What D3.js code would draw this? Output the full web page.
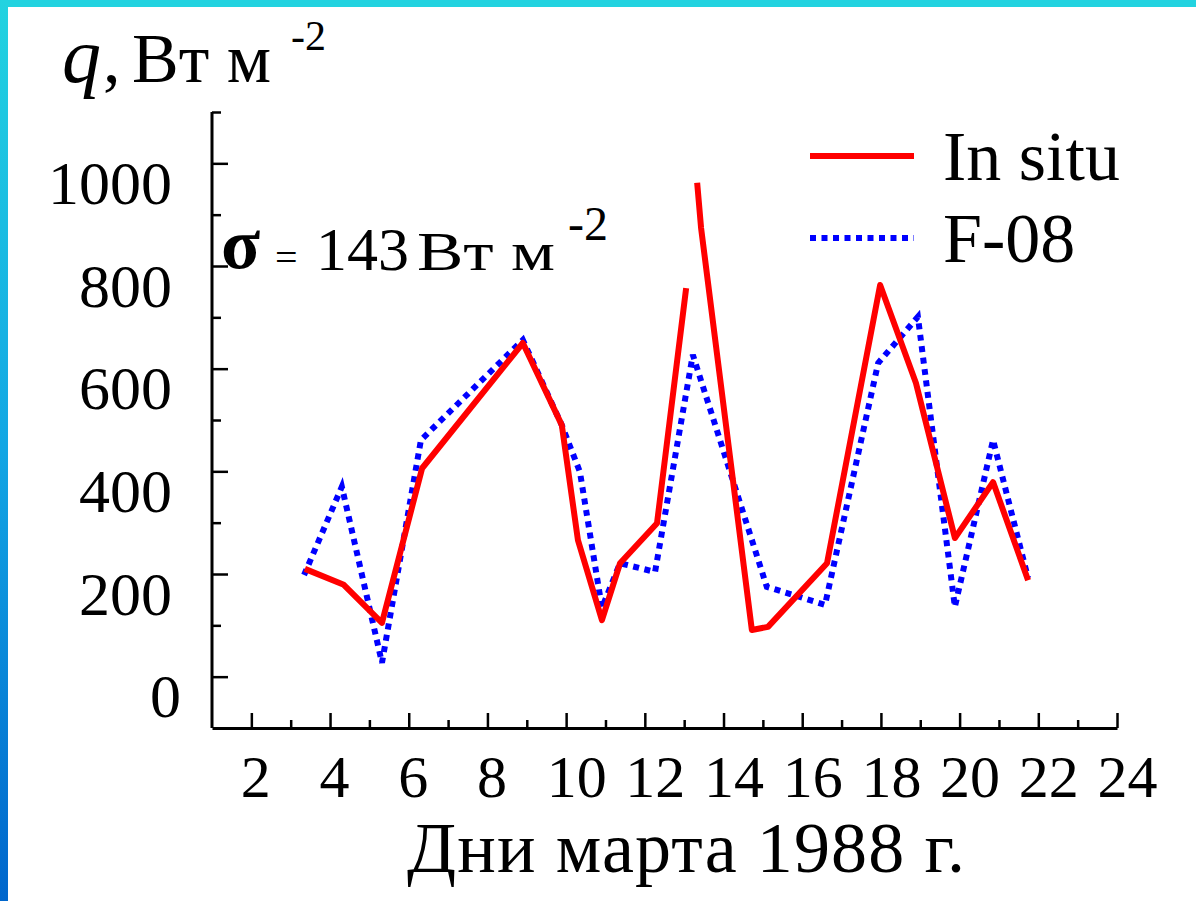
<!DOCTYPE html>
<html>
<head>
<meta charset="utf-8">
<script src="https://cdn.jsdelivr.net/npm/d3@7"></script>
<style>
  body { margin: 0; background: #fff; }
  svg { display: block; }
  text { font-family: "Liberation Serif", "Times New Roman", serif; fill: #000; }
</style>
</head>
<body>
<div id="chart"></div>
<script>
// days of March 1988 and heat flux q, W m-2
const inSituDays = [3.36, 4.35, 5.32, 6.34, 8.90, 9.89, 10.30, 10.91, 11.37, 12.31, 13.05, null,
                    13.33, 13.43, 14.72, 15.13, 16.63, 17.98, 18.89, 19.88, 20.85, 21.74];
const inSituValues = [210, 179, 105, 406, 650, 490, 266, 110, 221, 299, 757, null,
                      962, 874, 91, 97, 221, 763, 572, 270, 379, 188];
const f08Days = [3.34, 4.30, 5.32, 6.31, 8.90, 9.89, 10.35, 10.91, 11.37, 12.26, 13.22,
                 15.10, 16.58, 17.93, 18.94, 19.88, 20.85, 21.74];
const f08Values = [198, 370, 27, 461, 656, 490, 399, 134, 221, 204, 627,
                   175, 140, 611, 701, 136, 461, 192];

const xTickValues = d3.range(2, 25);          // 2..24, labels on even days
const yTickValues = d3.range(0, 1101, 100);   // labels on multiples of 200
const seriesNames = ["In situ", "F-08"];

const width = 1196, height = 901;

const svg = d3.select("#chart").append("svg")
    .attr("width", width)
    .attr("height", height);

// frame: cyan top band and gradient left band
const grad = svg.append("defs").append("linearGradient")
    .attr("id", "side").attr("x1", 0).attr("y1", 0).attr("x2", 0).attr("y2", 1);
grad.append("stop").attr("offset", "0%").attr("stop-color", "#22d3e0");
grad.append("stop").attr("offset", "50%").attr("stop-color", "#12a6e4");
grad.append("stop").attr("offset", "100%").attr("stop-color", "#0066cc");
svg.append("rect").attr("x", 0).attr("y", 0).attr("width", width).attr("height", 7).attr("fill", "#22d3e0");
svg.append("rect").attr("x", 0).attr("y", 0).attr("width", 8).attr("height", height).attr("fill", "url(#side)");

const x = d3.scaleLinear().domain([1, 24]).range([212, 1117]);
const y = d3.scaleLinear().domain([-100, 1100]).range([728, 112]);

// x axis, ticks pointing inward
const xAxis = svg.append("g")
    .attr("transform", `translate(0,${y(-100)})`)
    .call(d3.axisBottom(x).tickValues(xTickValues).tickSizeOuter(0).tickFormat(d3.format("d")));
xAxis.select(".domain").attr("stroke", "#000").attr("stroke-width", 3);
xAxis.selectAll(".tick line")
    .attr("stroke", "#000").attr("stroke-width", 2.5)
    .attr("y2", d => d % 2 === 0 ? -15 : -8);
xAxis.selectAll(".tick text")
    .attr("dy", null).attr("y", 69)
    .attr("x", d => d < 10 ? 4 : 10)
    .style("font-size", "60px")
    .text(d => d % 2 === 0 ? d : "");

// y axis, ticks pointing inward
const yAxis = svg.append("g")
    .attr("transform", `translate(${x(1)},0)`)
    .call(d3.axisLeft(y).tickValues(yTickValues).tickSizeOuter(0).tickFormat(d3.format("d")));
yAxis.select(".domain").attr("stroke", "#000").attr("stroke-width", 3)
    .attr("d", `M0,${y(1100)}V${y(-100)}`);
yAxis.selectAll(".tick line")
    .attr("stroke", "#000").attr("stroke-width", 2.5)
    .attr("x2", d => d % 200 === 0 ? 16 : 9);
yAxis.selectAll(".tick text")
    .attr("dy", null).attr("y", 40)
    .attr("x", d => d === 0 ? -31 : -40)
    .attr("text-anchor", "end")
    .style("font-size", "62px")
    .text(d => d % 200 === 0 ? d : "");

// lines
const line = d3.line()
    .defined(d => d[1] != null)
    .x(d => x(d[0]))
    .y(d => y(d[1]));

const inSitu = d3.zip(inSituDays, inSituValues);
const f08 = d3.zip(f08Days, f08Values);

svg.append("path")
    .datum(f08)
    .attr("fill", "none")
    .attr("stroke", "#0000ff")
    .attr("stroke-width", 6)
    .attr("stroke-dasharray", "6,5.5")
    .attr("d", line);

svg.append("path")
    .datum(inSitu)
    .attr("fill", "none")
    .attr("stroke", "#ff0000")
    .attr("stroke-width", 6)
    .attr("stroke-linejoin", "round")
    .attr("d", line);

// axis titles
const yTitle = svg.append("text").attr("y", 82);
yTitle.append("tspan").attr("x", 62).style("font-style", "italic").style("font-size", "78px").text("q");
yTitle.append("tspan").attr("x", 103).style("font-size", "70px").text(",");
yTitle.append("tspan").attr("x", 132).style("font-size", "70px").text("Вт м");
svg.append("text").attr("x", 291).attr("y", 50).style("font-size", "42px").text("-2");

svg.append("text")
    .attr("x", 407).attr("y", 872)
    .attr("textLength", 558)
    .style("font-size", "72px")
    .text("Дни марта 1988 г.");

// sigma annotation
svg.append("text").attr("x", 221).attr("y", 268)
    .style("font-size", "72px").style("font-weight", "bold").text("σ");
svg.append("text").attr("x", 275).attr("y", 271)
    .style("font-size", "40px").text("=");
svg.append("text").attr("x", 316).attr("y", 270)
    .style("font-size", "62px").text("143");
svg.append("text").attr("x", 417).attr("y", 270)
    .attr("textLength", 138).attr("lengthAdjust", "spacingAndGlyphs")
    .style("font-size", "54px").text("Вт м");
svg.append("text").attr("x", 568).attr("y", 240)
    .style("font-size", "48px").text("-2");

// legend
const legend = svg.append("g");
const legendRows = [
    { name: seriesNames[0], color: "#ff0000", dash: null, y: 156 },
    { name: seriesNames[1], color: "#0000ff", dash: "6,5.5", y: 238 }
];
legend.selectAll("line")
    .data(legendRows)
    .join("line")
    .attr("x1", 810).attr("x2", 914)
    .attr("y1", d => d.y).attr("y2", d => d.y)
    .attr("stroke", d => d.color)
    .attr("stroke-width", 6)
    .attr("stroke-dasharray", d => d.dash);
legend.selectAll("text")
    .data(legendRows)
    .join("text")
    .attr("x", 943)
    .attr("y", d => d.y + 24)
    .style("font-size", "70px")
    .text(d => d.name);
</script>
</body>
</html>
